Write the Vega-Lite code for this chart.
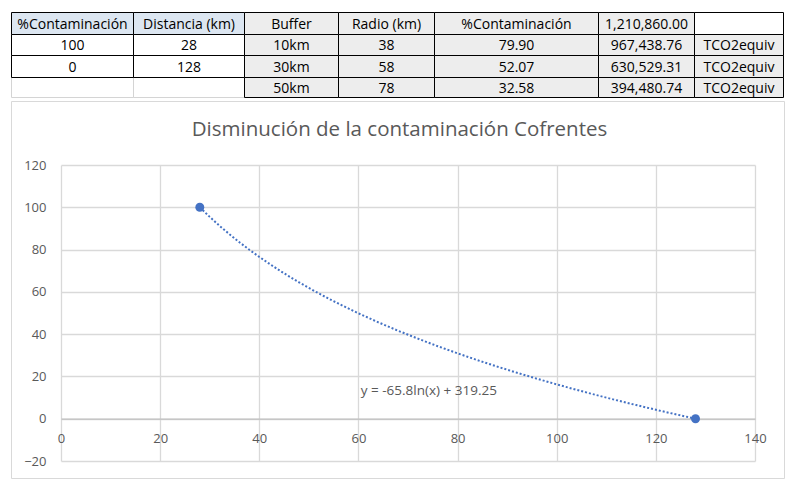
{
  "$schema": "https://vega.github.io/schema/vega-lite/v6.json",
  "autosize": {"type": "pad"},
  "padding": {"left": 10, "top": 0, "right": 4, "bottom": 3},
  "background": "white",
  "spacing": 0,
  "config": {"view": {"stroke": null}, "font": "Open Sans", "concat": {"spacing": 0}},
  "vconcat": [
    {
      "width": 773,
      "height": 100,
      "data": {"values": [
        {"r": 3, "c": 0, "k": "b", "t": ""},
        {"r": 3, "c": 1, "k": "b", "t": ""},
        {"r": 0, "c": 0, "k": "h", "t": "%Contaminación"},
        {"r": 0, "c": 1, "k": "h", "t": "Distancia (km)"},
        {"r": 0, "c": 2, "k": "g", "t": "Buffer"},
        {"r": 0, "c": 3, "k": "g", "t": "Radio (km)"},
        {"r": 0, "c": 4, "k": "g", "t": "%Contaminación"},
        {"r": 0, "c": 5, "k": "g", "t": "1,210,860.00"},
        {"r": 0, "c": 6, "k": "w", "t": ""},
        {"r": 1, "c": 0, "k": "w", "t": "100"},
        {"r": 1, "c": 1, "k": "w", "t": "28"},
        {"r": 1, "c": 2, "k": "g", "t": "10km"},
        {"r": 1, "c": 3, "k": "g", "t": "38"},
        {"r": 1, "c": 4, "k": "g", "t": "79.90"},
        {"r": 1, "c": 5, "k": "g", "t": "967,438.76"},
        {"r": 1, "c": 6, "k": "g", "t": "TCO2equiv"},
        {"r": 2, "c": 0, "k": "w", "t": "0"},
        {"r": 2, "c": 1, "k": "w", "t": "128"},
        {"r": 2, "c": 2, "k": "g", "t": "30km"},
        {"r": 2, "c": 3, "k": "g", "t": "58"},
        {"r": 2, "c": 4, "k": "g", "t": "52.07"},
        {"r": 2, "c": 5, "k": "g", "t": "630,529.31"},
        {"r": 2, "c": 6, "k": "g", "t": "TCO2equiv"},
        {"r": 3, "c": 2, "k": "g", "t": "50km"},
        {"r": 3, "c": 3, "k": "g", "t": "78"},
        {"r": 3, "c": 4, "k": "g", "t": "32.58"},
        {"r": 3, "c": 5, "k": "g", "t": "394,480.74"},
        {"r": 3, "c": 6, "k": "g", "t": "TCO2equiv"}
      ]},
      "transform": [
        {"calculate": "datum.c + 1", "as": "c2"},
        {"calculate": "datum.r + 1", "as": "r2"},
        {"calculate": "datum.c + 0.5", "as": "cm"},
        {"calculate": "datum.r + 0.5", "as": "rm"}
      ],
      "encoding": {
        "x": {"field": "c", "type": "quantitative", "axis": null,
              "scale": {"domain": [0, 1, 2, 3, 4, 5, 6, 7], "range": [0.5, 122.5, 233.5, 327.5, 423.5, 587.5, 683.5, 772.5], "nice": false, "zero": false}},
        "y": {"field": "r", "type": "quantitative", "axis": null,
              "scale": {"domain": [0, 1, 2, 3, 4], "range": [12.5, 34.5, 55.5, 77.5, 97.5], "nice": false, "zero": false}}
      },
      "layer": [
        {
          "mark": {"type": "rect", "strokeWidth": 1},
          "encoding": {
            "x2": {"field": "c2"},
            "y2": {"field": "r2"},
            "fill": {"field": "k", "type": "nominal", "legend": null,
                     "scale": {"domain": ["b", "h", "w", "g"], "range": ["#ffffff", "#dce6f1", "#ffffff", "#ededed"]}},
            "stroke": {"field": "k", "type": "nominal", "legend": null,
                       "scale": {"domain": ["b", "h", "w", "g"], "range": ["#d4d4d4", "#000000", "#000000", "#000000"]}}
          }
        },
        {
          "mark": {"type": "text", "fontSize": 14, "font": "Open Sans", "color": "#000000", "baseline": "middle", "align": "center", "dy": 1},
          "encoding": {
            "x": {"field": "cm", "type": "quantitative"},
            "y": {"field": "rm", "type": "quantitative"},
            "text": {"field": "t"}
          }
        }
      ]
    },
    {
      "width": 773,
      "height": 377,
      "view": {"stroke": "#d9d9d9"},
      "title": {"text": "Disminución de la contaminación Cofrentes", "fontSize": 20.5, "fontWeight": "normal", "color": "#595959", "font": "Open Sans", "anchor": "middle", "frame": "group", "offset": -55, "baseline": "alphabetic", "dx": 2},
      "layer": [
        {
          "data": {"values": [{"dist": 28, "pct": 100}, {"dist": 128, "pct": 0}]},
          "transform": [{"regression": "pct", "on": "dist", "method": "log"}],
          "mark": {"type": "line", "color": "#4472c4", "strokeWidth": 2, "strokeDash": [2, 2]},
          "encoding": {
            "x": {"field": "dist", "type": "quantitative",
                  "scale": {"domain": [0, 140], "range": [50, 744], "nice": false, "zero": false},
                  "axis": {"orient": "top", "offset": -317.7, "values": [0, 20, 40, 60, 80, 100, 120, 140], "grid": true, "gridColor": "#d9d9d9", "gridWidth": 1.3, "domain": true, "domainColor": "#bfbfbf", "domainWidth": 1.3, "ticks": false, "tickSize": 0, "labelPadding": -20, "labelBaseline": "middle", "labelColor": "#595959", "labelFontSize": 13, "labelFont": "Open Sans", "labelFlush": false, "labelOverlap": false, "title": null}},
            "y": {"field": "pct", "type": "quantitative",
                  "scale": {"domain": [-20, 120], "range": [360, 64], "nice": false, "zero": false},
                  "axis": {"orient": "left", "offset": -43, "values": [-20, 0, 20, 40, 60, 80, 100, 120], "grid": true, "gridColor": "#d9d9d9", "gridWidth": 1.3, "domain": false, "ticks": false, "tickSize": 0, "labelPadding": 8, "labelColor": "#595959", "labelFontSize": 13, "labelFont": "Open Sans", "labelOverlap": false, "title": null}}
          }
        },
        {
          "data": {"values": [{"dist": 28, "pct": 100}, {"dist": 128, "pct": 0}]},
          "mark": {"type": "circle", "color": "#4472c4", "size": 80, "opacity": 1},
          "encoding": {
            "x": {"field": "dist", "type": "quantitative"},
            "y": {"field": "pct", "type": "quantitative"}
          }
        },
        {
          "data": {"values": [{"label": "y = -65.8ln(x) + 319.25"}]},
          "mark": {"type": "text", "color": "#595959", "fontSize": 13.5, "font": "Open Sans", "align": "center", "baseline": "middle"},
          "encoding": {
            "x": {"datum": 74.2, "type": "quantitative"},
            "y": {"datum": 13.1, "type": "quantitative"},
            "text": {"field": "label"}
          }
        }
      ]
    }
  ]
}
